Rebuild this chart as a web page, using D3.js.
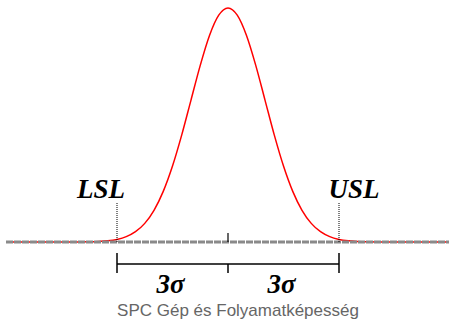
<!DOCTYPE html>
<html>
<head>
<meta charset="utf-8">
<script src="https://cdn.jsdelivr.net/npm/d3@7"></script>
<style>
  html, body { margin: 0; padding: 0; background: #fff; }
  svg { display: block; }
</style>
</head>
<body>
<svg id="chart" width="449" height="322"></svg>
<script>
// Positions along the process axis, in units of sigma from the mean
const sigmaPositions = [-6, -4.5, -4, -3.75, -3.5, -3.25, -3, -2.75, -2.5, -2.25, -2, -1.75, -1.5, -1.25, -1, -0.75, -0.5, -0.25,
  0, 0.25, 0.5, 0.75, 1, 1.25, 1.5, 1.75, 2, 2.25, 2.5, 2.75, 3, 3.25, 3.5, 3.75, 4, 4.5, 6];
// Standard normal density at those positions
const densities = [0, 0.00002, 0.00013, 0.00035, 0.00087, 0.00203, 0.00443, 0.00909, 0.01753, 0.03174, 0.05399, 0.08628, 0.12952, 0.18265, 0.24197, 0.30114, 0.35207, 0.38667,
  0.39894, 0.38667, 0.35207, 0.30114, 0.24197, 0.18265, 0.12952, 0.08628, 0.05399, 0.03174, 0.01753, 0.00909, 0.00443, 0.00203, 0.00087, 0.00035, 0.00013, 0.00002, 0];
// Specification limits and their labels
const specLimits = [-3, 3];
const specLabels = ["LSL", "USL"];
// Sigma spans marked below the axis
const spanStarts = [-3, 0];
const spanEnds = [0, 3];
const spanLabels = ["3σ", "3σ"];
const caption = "SPC Gép és Folyamatképesség";

const svg = d3.select("#chart");
const x = d3.scaleLinear().domain([-6, 6]).range([6, 450]);
const y = d3.scaleLinear().domain([0, 0.39894]).range([242, 8]);

const curve = sigmaPositions.map((s, i) => ({ s, d: densities[i] }));

// Bell curve
svg.append("path")
  .datum(curve)
  .attr("fill", "none")
  .attr("stroke", "#ff0000")
  .attr("stroke-width", 1.5)
  .attr("d", d3.line().x(p => x(p.s)).y(p => y(p.d)).curve(d3.curveMonotoneX));

// Horizontal process axis
svg.append("line")
  .attr("x1", x(-6)).attr("x2", x(6))
  .attr("y1", y(0)).attr("y2", y(0))
  .attr("stroke", "#8a8a8a")
  .attr("stroke-width", 3)
  .attr("stroke-dasharray", "7,1");

// Mean tick
svg.append("line")
  .attr("x1", x(0)).attr("x2", x(0))
  .attr("y1", y(0) - 9).attr("y2", y(0))
  .attr("stroke", "#000").attr("stroke-width", 1.2);

// Specification limit markers
specLimits.forEach((v, i) => {
  svg.append("line")
    .attr("x1", x(v)).attr("x2", x(v))
    .attr("y1", 203).attr("y2", y(0))
    .attr("stroke", "#000").attr("stroke-width", 1)
    .attr("stroke-dasharray", "1,1");
  svg.append("text")
    .attr("x", x(v) + (i === 0 ? -16 : 15))
    .attr("y", 198)
    .attr("text-anchor", "middle")
    .attr("font-family", "'Liberation Serif', 'Times New Roman', serif")
    .attr("font-weight", "bold")
    .attr("font-style", "italic")
    .attr("font-size", 27)
    .attr("fill", "#000")
    .text(specLabels[i]);
});

// Sigma span bracket
const bracketY = 264;
svg.append("line")
  .attr("x1", x(specLimits[0])).attr("x2", x(specLimits[1]))
  .attr("y1", bracketY).attr("y2", bracketY)
  .attr("stroke", "#000").attr("stroke-width", 1.5);
specLimits.forEach(v => {
  svg.append("line")
    .attr("x1", x(v)).attr("x2", x(v))
    .attr("y1", bracketY - 11).attr("y2", bracketY + 9)
    .attr("stroke", "#000").attr("stroke-width", 1.5);
});
svg.append("line")
  .attr("x1", x(0)).attr("x2", x(0))
  .attr("y1", bracketY).attr("y2", bracketY + 9)
  .attr("stroke", "#000").attr("stroke-width", 1.5);

spanLabels.forEach((t, i) => {
  svg.append("text")
    .attr("x", (x(spanStarts[i]) + x(spanEnds[i])) / 2 - 2)
    .attr("y", 293)
    .attr("text-anchor", "middle")
    .attr("font-family", "'Liberation Serif', 'Times New Roman', serif")
    .attr("font-weight", "bold")
    .attr("font-style", "italic")
    .attr("font-size", 27)
    .attr("fill", "#000")
    .text(t);
});

// Caption
svg.append("text")
  .attr("x", 238)
  .attr("y", 316)
  .attr("text-anchor", "middle")
  .attr("font-family", "'Liberation Sans', Arial, sans-serif")
  .attr("font-size", 17)
  .attr("fill", "#666")
  .text(caption);
</script>
</body>
</html>
